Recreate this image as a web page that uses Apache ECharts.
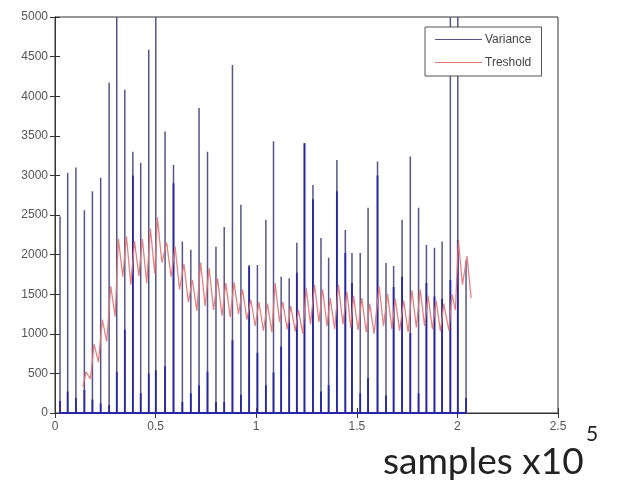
<!DOCTYPE html>
<html>
<head>
<meta charset="utf-8">
<title>Variance / Treshold</title>
<script src="https://cdn.jsdelivr.net/npm/echarts@6/dist/echarts.min.js"></script>
<style>
    html, body { margin: 0; padding: 0; background: #fff; }
    #chart { width: 619px; height: 480px; }
</style>
</head>
<body>
<div id="chart"></div>
<script>
// Positions des pics (x10^5 échantillons)
const spikeX = [
    0.025, 0.063, 0.104, 0.146, 0.186, 0.227, 0.269, 0.307, 0.347, 0.387,
    0.426, 0.466, 0.501, 0.547, 0.589, 0.633, 0.675, 0.716, 0.758, 0.800,
    0.841, 0.882, 0.924, 0.965, 1.006, 1.048, 1.086, 1.124, 1.164, 1.202,
    1.240, 1.282, 1.322, 1.360, 1.401, 1.443, 1.476, 1.517, 1.556, 1.603,
    1.645, 1.683, 1.725, 1.766, 1.807, 1.846, 1.886, 1.924, 1.965, 2.002,
    2.043
];

// Hauteur maximale de chaque pic
const spikePeak = [
    2480, 3030, 3100, 2560, 2800, 2970, 4170, 5000, 4080, 3300,
    3160, 4585, 5000, 3555, 3130, 2165, 2060, 3850, 3300, 2100,
    2350, 4395, 2630, 1870, 1870, 2440, 3430, 1720, 1700, 2150,
    3405, 2880, 2210, 1960, 3195, 2310, 2020, 2020, 2590, 3175,
    1895, 1857, 2440, 3240, 2590, 2120, 2085, 2165, 5000, 5000,
    1930
];

// Partie basse plus dense (bleu foncé) de chaque pic
const spikeInner = [
    150, 270, 190, 290, 170, 120, 100, 520, 1050, 3000,
    250, 500, 540, 590, 2900, 140, 250, 350, 520, 140,
    140, 920, 230, 1850, 760, 350, 510, 840, 1140, 1770,
    3405, 2700, 270, 350, 2800, 2020, 1640, 250, 440, 3000,
    220, 1590, 1720, 1010, 250, 1640, 1470, 1440, 1680, 2185,
    190
];

// Courbe du seuil
const thresholdX = [
    0.139, 0.154, 0.176, 0.194, 0.216, 0.235, 0.257, 0.277, 0.299, 0.315,
    0.337, 0.355, 0.377, 0.395, 0.417, 0.434, 0.456, 0.474, 0.496, 0.509,
    0.531, 0.555, 0.577, 0.597, 0.619, 0.641, 0.663, 0.683, 0.705, 0.724,
    0.746, 0.766, 0.788, 0.808, 0.830, 0.849, 0.871, 0.890, 0.912, 0.932,
    0.954, 0.973, 0.995, 1.014, 1.036, 1.056, 1.078, 1.094, 1.116, 1.132,
    1.154, 1.172, 1.194, 1.210, 1.232, 1.248, 1.270, 1.290, 1.312, 1.330,
    1.352, 1.368, 1.390, 1.409, 1.431, 1.451, 1.470, 1.484, 1.506, 1.525,
    1.547, 1.564, 1.586, 1.611, 1.633, 1.653, 1.675, 1.691, 1.713, 1.733,
    1.755, 1.774, 1.796, 1.815, 1.837, 1.854, 1.876, 1.894, 1.916, 1.932,
    1.958, 1.973, 1.990, 2.005, 2.025, 2.048, 2.068
];

const thresholdY = [
    330, 520, 430, 870, 640, 1180, 900, 1600, 1220, 2200,
    1720, 2230, 1620, 2170, 1730, 2200, 1640, 2330, 1760, 2470,
    1900, 2150, 1720, 2100, 1560, 1880, 1400, 1680, 1290, 1900,
    1350, 1830, 1300, 1700, 1230, 1640, 1210, 1650, 1250, 1560,
    1180, 1430, 1100, 1400, 1040, 1380, 1020, 1640, 1150, 1400,
    1060, 1350, 1030, 1300, 1000, 1580, 1120, 1620, 1150, 1560,
    1100, 1450, 1060, 1620, 1120, 1530, 1080, 1480, 1050, 1450,
    1020, 1380, 1000, 1600, 1100, 1500, 1060, 1440, 1040, 1420,
    1020, 1550, 1080, 1560, 1100, 1480, 1060, 1420, 1030, 1380,
    1040, 1500, 1300, 2180, 1620, 1980, 1450
];

// Construit une trace "aller-retour" pour chaque pic (0 -> hauteur -> 0)
function spikeTrace(heights)
{
    const data = [];
    spikeX.forEach((x, i) => {
        data.push([x, 0], [x, heights[i]], [x, 0]);
    });
    return data;
}

const thresholdData = thresholdX.map((x, i) => [x, thresholdY[i]]);

const axisColor = "#333";
const labelStyle = { color: "#555", fontSize: 12, fontFamily: "Liberation Sans" };

const option = {
    animation: false,
    backgroundColor: "#fff",
    grid: { left: 55, top: 17, right: 61, bottom: 67, show: true, borderColor: axisColor, borderWidth: 1 },
    legend: {
        left: 425,
        top: 27,
        orient: "vertical",
        icon: "rect",
        itemWidth: 47,
        itemHeight: 1,
        itemGap: 8,
        padding: [5, 10, 6, 10],
        borderColor: "#555",
        borderWidth: 1,
        backgroundColor: "#fff",
        textStyle: { color: "#444", fontSize: 12, fontFamily: "Liberation Sans", lineHeight: 15, padding: [0, 0, 0, -2] },
        data: ["Variance", "Treshold"]
    },
    xAxis: [
        {
            type: "value", min: 0, max: 2.5, interval: 0.5,
            axisLine: { lineStyle: { color: axisColor } },
            axisTick: { inside: true, length: 5, lineStyle: { color: axisColor } },
            axisLabel: Object.assign({ margin: 8 }, labelStyle),
            splitLine: { show: false }
        },
        {
            type: "value", min: 0, max: 2.5, interval: 0.5, position: "top",
            axisLine: { lineStyle: { color: axisColor } },
            axisTick: { inside: true, length: 5, lineStyle: { color: axisColor } },
            axisLabel: { show: false },
            splitLine: { show: false }
        }
    ],
    yAxis: [
        {
            type: "value", min: 0, max: 5000, interval: 500,
            axisLine: { show: true, lineStyle: { color: axisColor } },
            axisTick: { show: true, inside: true, length: 5, lineStyle: { color: axisColor } },
            axisLabel: Object.assign({ margin: 7, formatter: (v) => String(v) }, labelStyle),
            splitLine: { show: false }
        },
        {
            type: "value", min: 0, max: 5000, interval: 500, position: "right",
            axisLine: { show: true, lineStyle: { color: axisColor } },
            axisTick: { show: true, inside: true, length: 5, lineStyle: { color: axisColor } },
            axisLabel: { show: false },
            splitLine: { show: false }
        }
    ],
    series: [
        {
            name: "Variance",
            type: "line",
            symbol: "none",
            data: spikeTrace(spikePeak),
            lineStyle: { color: "#55558c", width: 1.5 },
            itemStyle: { color: "#55558c" },
            z: 2
        },
        {
            name: "Variance",
            type: "line",
            symbol: "none",
            data: spikeTrace(spikeInner),
            lineStyle: { color: "#2626a6", width: 1.8 },
            itemStyle: { color: "#2626a6" },
            z: 3
        },
        {
            name: "Treshold",
            type: "line",
            symbol: "none",
            data: thresholdData,
            lineStyle: { color: "#e27575", width: 1.3, opacity: 0.9 },
            itemStyle: { color: "#e27575" },
            z: 4
        }
    ],
    graphic: [
        {
            type: "text",
            left: 383,
            top: 444,
            style: { text: "samples x10", fontSize: 37, fontFamily: "Lato", fill: "#222" }
        },
        {
            type: "text",
            left: 586,
            top: 424,
            style: { text: "5", fontSize: 21, fontFamily: "Lato", fill: "#222" }
        }
    ]
};

const chart = echarts.init(document.getElementById("chart"));
chart.setOption(option);
</script>
</body>
</html>
